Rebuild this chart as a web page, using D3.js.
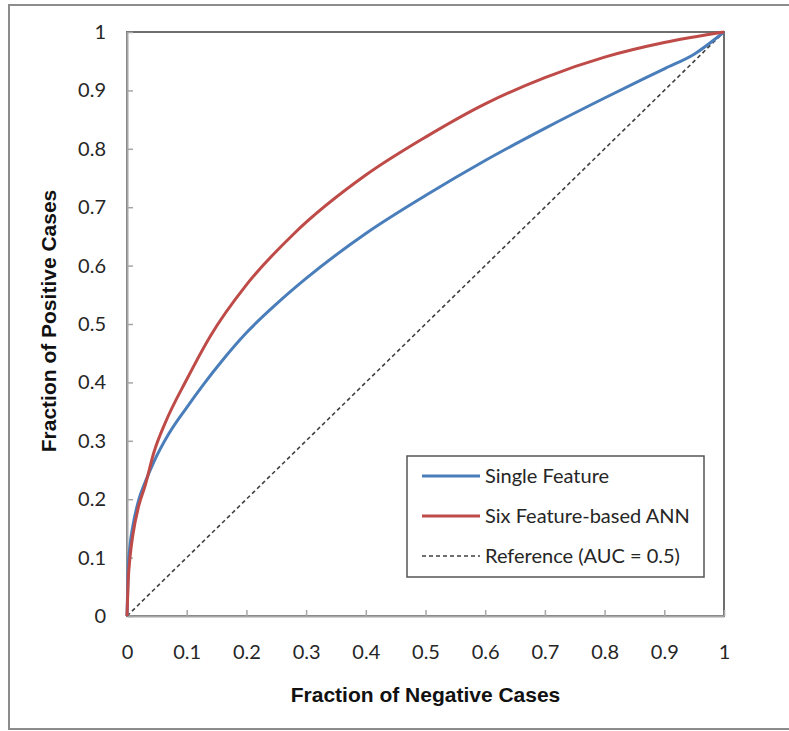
<!DOCTYPE html>
<html>
<head>
<meta charset="utf-8">
<script src="https://cdn.jsdelivr.net/npm/d3@7"></script>
<style>
  body { margin: 0; background: #fff; }
  .tick text { font-family: Lato, "Open Sans", sans-serif; font-size: 20px; fill: #262626; }
  .axis-title { font-family: "Liberation Sans", Arial, sans-serif; font-weight: bold; font-size: 21px; fill: #111; }
  .legend text { font-family: Lato, "Open Sans", sans-serif; font-size: 20px; fill: #262626; }
</style>
</head>
<body>
<script>
// ROC curves
const singleX = [0, 0.002, 0.005, 0.01, 0.02, 0.03, 0.045, 0.07, 0.1, 0.127, 0.16, 0.2, 0.25, 0.3, 0.4, 0.5, 0.6, 0.7, 0.8, 0.9, 0.95, 1]
const singleY = [0, 0.08, 0.12, 0.155, 0.2, 0.228, 0.264, 0.312, 0.357, 0.395, 0.438, 0.485, 0.534, 0.578, 0.655, 0.72, 0.78, 0.835, 0.887, 0.937, 0.962, 1]
const annX = [0, 0.002, 0.005, 0.01, 0.02, 0.03, 0.045, 0.065, 0.1, 0.14, 0.2, 0.28, 0.4, 0.5, 0.6, 0.7, 0.8, 0.9, 1]
const annY = [0, 0.06, 0.1, 0.14, 0.19, 0.222, 0.28, 0.333, 0.405, 0.48, 0.567, 0.655, 0.755, 0.82, 0.877, 0.922, 0.957, 0.982, 1]
const refX = [0, 1]
const refY = [0, 1]

const tickValues = [0, 0.1, 0.2, 0.3, 0.4, 0.5, 0.6, 0.7, 0.8, 0.9, 1]
const tickLabels = ['0', '0.1', '0.2', '0.3', '0.4', '0.5', '0.6', '0.7', '0.8', '0.9', '1']

const seriesNames = ['Single Feature', 'Six Feature-based ANN', 'Reference (AUC = 0.5)']
const seriesColors = ['#4a7ebb', '#be4b48', '#404040']

const W = 789, H = 731
const margin = {top: 32, right: 65, bottom: 115, left: 127}
const width = W - margin.left - margin.right
const height = H - margin.top - margin.bottom

const svg = d3.select('body').append('svg')
  .attr('width', W)
  .attr('height', H)

// outer frame (right edge runs off the picture)
svg.append('rect')
  .attr('x', 9).attr('y', 5)
  .attr('width', W + 10).attr('height', 724)
  .attr('fill', 'none')
  .attr('stroke', '#8c8c8c')
  .attr('stroke-width', 2)

const g = svg.append('g')
  .attr('transform', `translate(${margin.left},${margin.top})`)

const x = d3.scaleLinear().domain([0, 1]).range([0, width])
const y = d3.scaleLinear().domain([0, 1]).range([height, 0])

// plot border
g.append('rect')
  .attr('width', width).attr('height', height)
  .attr('fill', 'none')
  .attr('stroke', '#6e6e6e')
  .attr('stroke-width', 2)

const xAxis = g.append('g')
  .attr('transform', `translate(0,${height})`)
  .call(d3.axisBottom(x).tickValues(tickValues)
    .tickFormat((d, i) => tickLabels[i])
    .tickSize(-6).tickSizeOuter(0).tickPadding(29))
const yAxis = g.append('g')
  .call(d3.axisLeft(y).tickValues(tickValues)
    .tickFormat((d, i) => tickLabels[i])
    .tickSize(-6).tickSizeOuter(0).tickPadding(21))

;[xAxis, yAxis].forEach(a => {
  a.select('.domain').attr('stroke', '#a6a6a6').attr('stroke-width', 2)
  a.selectAll('.tick line').attr('stroke', '#a6a6a6').attr('stroke-width', 1.5)
  a.attr('font-family', null).attr('font-size', null)
})

const line = d3.line()
  .x(d => x(d[0]))
  .y(d => y(d[1]))

const curved = d3.line()
  .x(d => x(d[0]))
  .y(d => y(d[1]))
  .curve(d3.curveMonotoneX)

g.append('path')
  .datum(refX.map((v, i) => [v, refY[i]]))
  .attr('d', line)
  .attr('fill', 'none')
  .attr('stroke', seriesColors[2])
  .attr('stroke-width', 1.6)
  .attr('stroke-dasharray', '4,3')

g.append('path')
  .datum(singleX.map((v, i) => [v, singleY[i]]))
  .attr('d', curved)
  .attr('fill', 'none')
  .attr('stroke', seriesColors[0])
  .attr('stroke-width', 3)

g.append('path')
  .datum(annX.map((v, i) => [v, annY[i]]))
  .attr('d', curved)
  .attr('fill', 'none')
  .attr('stroke', seriesColors[1])
  .attr('stroke-width', 3)

// axis titles
svg.append('text')
  .attr('class', 'axis-title')
  .attr('x', margin.left + width / 2)
  .attr('y', 702)
  .attr('text-anchor', 'middle')
  .text('Fraction of Negative Cases')

svg.append('text')
  .attr('class', 'axis-title')
  .attr('transform', `translate(56,${margin.top + height / 2 - 3}) rotate(-90)`)
  .attr('text-anchor', 'middle')
  .text('Fraction of Positive Cases')

// legend
const legend = svg.append('g').attr('class', 'legend')
  .attr('transform', 'translate(407,456)')
legend.append('rect')
  .attr('width', 297).attr('height', 121)
  .attr('fill', '#fff')
  .attr('stroke', '#555')
  .attr('stroke-width', 1.5)
seriesNames.forEach((name, i) => {
  const ly = 20 + i * 40
  legend.append('line')
    .attr('x1', 15).attr('x2', 73)
    .attr('y1', ly).attr('y2', ly)
    .attr('stroke', seriesColors[i])
    .attr('stroke-width', i < 2 ? 3 : 1.6)
    .attr('stroke-dasharray', i < 2 ? null : '4,3')
  legend.append('text')
    .attr('x', 78)
    .attr('y', ly + 7)
    .text(name)
})
</script>
</body>
</html>
